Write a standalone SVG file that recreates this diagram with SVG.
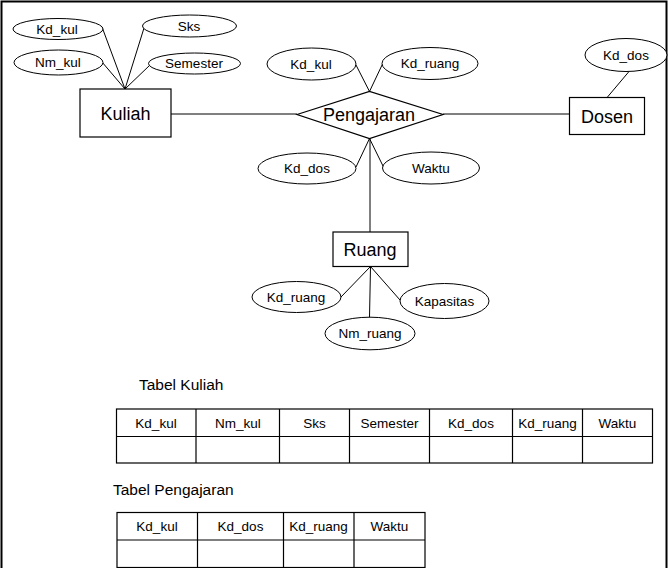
<svg xmlns="http://www.w3.org/2000/svg" width="668" height="568" viewBox="0 0 668 568">
<style>
text{font-family:"Liberation Sans",Arial,sans-serif;fill:#000;text-anchor:middle}
.ent rect,.rel polygon{fill:#fff;stroke:#000;stroke-width:1.2}
.ent text,.rel text{font-size:18px}
.att ellipse{fill:#fff;stroke:#000;stroke-width:1}
.att text{font-size:13.5px}
.con line{stroke:#000;stroke-width:1}
.tbl rect{fill:#fff;stroke:#000;stroke-width:1.2}
.tbl line{stroke:#000;stroke-width:1.2}
.tbl text{font-size:13.5px}
.cap{font-size:15.5px;text-anchor:start}
</style>
<rect x="1.5" y="1.5" width="665" height="600" fill="#fff" stroke="#000" stroke-width="2" id="frame"/>
<g id="connectors" class="con">
<line x1="102" y1="27" x2="125" y2="89"/>
<line x1="102" y1="62" x2="125" y2="89"/>
<line x1="144" y1="28" x2="125" y2="89"/>
<line x1="150" y1="65" x2="125" y2="89"/>
<line x1="171" y1="114" x2="297" y2="114"/>
<line x1="443" y1="114" x2="569" y2="114"/>
<line x1="629" y1="71.5" x2="607.5" y2="97"/>
<line x1="356" y1="65" x2="369.5" y2="91.5"/>
<line x1="383" y1="63" x2="369.5" y2="91.5"/>
<line x1="356" y1="167" x2="369.5" y2="138.5"/>
<line x1="383.5" y1="167" x2="369.5" y2="138.5"/>
<line x1="370" y1="138.5" x2="370" y2="232"/>
<line x1="370.5" y1="266.5" x2="341" y2="297"/>
<line x1="370.5" y1="266.5" x2="369.5" y2="317.5"/>
<line x1="370.5" y1="266.5" x2="400" y2="300"/>
</g>
<g id="att-kuliah-kdkul" class="att"><ellipse cx="58" cy="29" rx="45" ry="10.5"/><text x="57" y="33.5">Kd_kul</text></g>
<g id="att-kuliah-nmkul" class="att"><ellipse cx="58.5" cy="62.5" rx="44.5" ry="12.5"/><text x="58" y="67">Nm_kul</text></g>
<g id="att-kuliah-sks" class="att"><ellipse cx="189.5" cy="26" rx="47" ry="11"/><text x="189" y="30.5">Sks</text></g>
<g id="att-kuliah-semester" class="att"><ellipse cx="194.5" cy="63.5" rx="46" ry="10.5"/><text x="194" y="68">Semester</text></g>
<g id="kuliah" class="ent"><rect x="80" y="89" width="91" height="48"/><text x="125.5" y="119.5">Kuliah</text></g>
<g id="pengajaran" class="rel"><polygon points="297,114.5 369.5,91.5 443,114.5 369.5,138.5"/><text x="369" y="121">Pengajaran</text></g>
<g id="att-peng-kdkul" class="att"><ellipse cx="311.5" cy="64" rx="44.5" ry="16"/><text x="311" y="68.5">Kd_kul</text></g>
<g id="att-peng-kdruang" class="att"><ellipse cx="430" cy="63.5" rx="48" ry="16"/><text x="430" y="68">Kd_ruang</text></g>
<g id="att-peng-kddos" class="att"><ellipse cx="307" cy="168.5" rx="49" ry="15.5"/><text x="307" y="173">Kd_dos</text></g>
<g id="att-peng-waktu" class="att"><ellipse cx="431" cy="168" rx="48.5" ry="16"/><text x="431" y="172.5">Waktu</text></g>
<g id="att-dosen-kddos" class="att"><ellipse cx="626" cy="55" rx="41" ry="16.5"/><text x="626" y="59.5">Kd_dos</text></g>
<g id="dosen" class="ent"><rect x="569.5" y="97.5" width="75" height="37"/><text x="607" y="122.5">Dosen</text></g>
<g id="ruang" class="ent"><rect x="333" y="232" width="75" height="34.5"/><text x="370" y="255.5">Ruang</text></g>
<g id="att-ruang-kdruang" class="att"><ellipse cx="296.5" cy="297" rx="44.5" ry="15.5"/><text x="296" y="301.5">Kd_ruang</text></g>
<g id="att-ruang-kapasitas" class="att"><ellipse cx="444.5" cy="301" rx="44.5" ry="17.5"/><text x="444.5" y="305.5">Kapasitas</text></g>
<g id="att-ruang-nmruang" class="att"><ellipse cx="370" cy="333.5" rx="45" ry="16.3"/><text x="370" y="338">Nm_ruang</text></g>
<text class="cap" x="139" y="390">Tabel Kuliah</text>
<g id="tabel-kuliah" class="tbl">
<rect x="116.5" y="409" width="536" height="54"/>
<line x1="116.5" y1="436.5" x2="652.5" y2="436.5"/>
<line x1="196" y1="409" x2="196" y2="463"/>
<line x1="279.5" y1="409" x2="279.5" y2="463"/>
<line x1="349.5" y1="409" x2="349.5" y2="463"/>
<line x1="429.5" y1="409" x2="429.5" y2="463"/>
<line x1="512.5" y1="409" x2="512.5" y2="463"/>
<line x1="582.5" y1="409" x2="582.5" y2="463"/>
<text x="156" y="427.5">Kd_kul</text>
<text x="238" y="427.5">Nm_kul</text>
<text x="314.5" y="427.5">Sks</text>
<text x="389.5" y="427.5">Semester</text>
<text x="471" y="427.5">Kd_dos</text>
<text x="547.5" y="427.5">Kd_ruang</text>
<text x="617.5" y="427.5">Waktu</text>
</g>
<text class="cap" x="113" y="494.5">Tabel Pengajaran</text>
<g id="tabel-pengajaran" class="tbl">
<rect x="117" y="512.5" width="308" height="55"/>
<line x1="117" y1="540" x2="425" y2="540"/>
<line x1="197.5" y1="512.5" x2="197.5" y2="567.5"/>
<line x1="283.5" y1="512.5" x2="283.5" y2="567.5"/>
<line x1="354" y1="512.5" x2="354" y2="567.5"/>
<text x="157" y="531">Kd_kul</text>
<text x="240.5" y="531">Kd_dos</text>
<text x="318.5" y="531">Kd_ruang</text>
<text x="389.5" y="531">Waktu</text>
</g>
</svg>
